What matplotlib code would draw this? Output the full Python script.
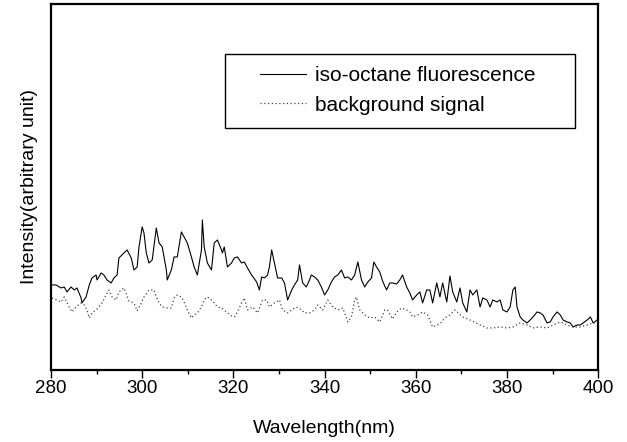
import matplotlib
matplotlib.use('Agg')
import matplotlib.pyplot as plt
from matplotlib.patches import Rectangle
from matplotlib.ticker import MultipleLocator

plt.rcParams['font.family'] = ['Liberation Sans', 'DejaVu Sans']

# iso-octane fluorescence (solid)
wl_fluor = [280.2, 281.1, 282.2, 282.9, 283.5, 284.4, 285.1, 285.7, 286.6, 286.8,
            287.7, 288.4, 289.0, 289.9, 290.1, 291.0, 291.6, 292.3, 293.2, 293.8,
            294.5, 294.9, 296.0, 296.7, 297.6, 298.2, 298.9, 299.3, 300.0, 300.4,
            300.9, 301.5, 302.2, 303.1, 303.7, 304.4, 305.3, 305.5, 306.4, 307.0,
            307.7, 308.6, 309.2, 309.9, 310.8, 311.4, 312.1, 313.0, 313.2, 313.6,
            314.3, 315.2, 315.8, 316.5, 317.4, 317.6, 318.0, 318.7, 319.6, 320.2,
            320.9, 321.8, 322.4, 323.1, 324.0, 325.1, 325.7, 326.2, 326.8, 327.5,
            327.9, 328.4, 329.0, 329.7, 330.6, 331.2, 331.9, 332.8, 333.4, 334.1,
            334.5, 335.2, 336.0, 336.7, 337.1, 337.8, 338.5, 339.3, 340.0, 340.7,
            341.5, 342.2, 342.9, 343.7, 344.4, 345.1, 345.9, 346.6, 347.3, 348.1,
            348.8, 349.5, 350.3, 350.8, 351.4, 352.1, 352.8, 353.6, 354.3, 354.9,
            355.8, 356.5, 357.1, 358.0, 358.7, 359.3, 360.2, 360.9, 361.5, 362.4,
            363.1, 363.7, 364.6, 365.3, 365.9, 366.8, 367.5, 368.1, 369.0, 369.7,
            370.3, 371.2, 371.9, 372.5, 373.4, 374.1, 374.7, 375.6, 376.3, 376.9,
            377.8, 378.5, 379.1, 380.0, 380.7, 381.3, 381.8, 382.2, 382.9, 383.5,
            384.4, 385.1, 385.7, 386.6, 387.3, 387.9, 388.8, 389.5, 390.1, 391.0,
            391.7, 392.3, 393.2, 393.9, 394.5, 395.4, 396.1, 396.7, 397.6, 398.3,
            398.9, 399.8]
int_fluor = [85, 85, 82, 83, 78, 83, 80, 82, 72, 67,
             73, 85, 92, 95, 90, 97, 95, 90, 87, 92,
             95, 112, 117, 120, 112, 100, 103, 123, 143, 137,
             117, 107, 110, 142, 127, 123, 100, 90, 100, 113,
             113, 138, 133, 127, 113, 103, 95, 120, 150, 123,
             107, 100, 127, 130, 120, 117, 123, 103, 107, 112,
             113, 107, 108, 102, 95, 88, 80, 93, 92, 95,
             103, 120, 107, 92, 92, 87, 70, 80, 85, 90,
             105, 87, 83, 90, 95, 93, 90, 83, 75, 80,
             88, 93, 95, 100, 92, 93, 90, 95, 108, 90,
             83, 88, 92, 108, 103, 98, 88, 80, 87, 87,
             86, 90, 95, 83, 77, 70, 75, 78, 67, 80,
             80, 67, 87, 73, 87, 68, 94, 78, 68, 82,
             67, 58, 80, 75, 80, 63, 72, 70, 63, 70,
             68, 70, 60, 58, 63, 80, 83, 63, 53, 50,
             47, 50, 53, 58, 57, 55, 47, 48, 53, 58,
             55, 50, 48, 47, 43, 45, 45, 47, 50, 53,
             47, 50]

# background signal (dotted)
wl_bg = [280.2, 281.3, 282.2, 282.9, 284.0, 284.6, 285.5, 286.6, 287.3, 287.9,
         288.4, 289.0, 289.9, 290.5, 291.2, 292.1, 292.7, 293.4, 294.3, 294.9,
         296.0, 297.1, 298.2, 298.9, 299.8, 300.4, 301.5, 302.6, 303.1, 303.7,
         304.4, 305.5, 306.4, 307.0, 307.7, 308.6, 309.2, 309.9, 310.8, 311.4,
         312.1, 313.0, 313.6, 314.3, 315.2, 315.8, 316.5, 317.4, 318.0, 318.7,
         319.6, 320.2, 320.9, 321.8, 322.4, 323.1, 324.2, 325.3, 326.4, 327.3,
         327.9, 329.0, 330.1, 330.8, 331.9, 332.8, 333.8, 335.0, 335.6, 336.7,
         337.8, 338.5, 339.6, 340.7, 341.8, 342.9, 344.0, 345.1, 345.9, 346.6,
         347.0, 347.7, 348.8, 349.9, 351.0, 352.1, 353.2, 353.8, 354.9, 355.8,
         356.9, 358.0, 358.7, 359.3, 360.4, 361.5, 362.6, 363.7, 365.3, 366.4,
         367.5, 368.6, 370.3, 371.9, 374.1, 375.6, 376.9, 378.5, 380.0, 381.3,
         382.9, 384.4, 385.7, 387.3, 388.8, 390.1, 391.7, 393.2, 394.5, 396.1,
         397.6, 398.9, 400.0]
int_bg = [72, 70, 68, 73, 63, 58, 63, 67, 65, 60,
          52, 57, 60, 63, 67, 75, 80, 73, 70, 78,
          82, 69, 67, 59, 67, 73, 80, 80, 73, 67,
          63, 62, 62, 72, 75, 73, 68, 60, 52, 55,
          57, 63, 70, 73, 70, 67, 63, 62, 60, 57,
          54, 53, 58, 67, 72, 60, 63, 57, 70, 70,
          63, 67, 70, 60, 57, 60, 63, 60, 57, 57,
          60, 65, 60, 70, 63, 60, 62, 48, 53, 70,
          73, 60, 55, 52, 53, 48, 60, 60, 51, 58,
          62, 60, 58, 53, 55, 58, 55, 43, 46, 52,
          55, 60, 53, 50, 45, 42, 42, 43, 42, 43,
          47, 45, 42, 43, 42, 45, 48, 45, 43, 43,
          45, 47, 47]

fig = plt.figure(figsize=(6.27, 4.42), dpi=100)
ax = fig.add_axes([0.0813, 0.163, 0.8727, 0.828])

ax.plot(wl_fluor, int_fluor, color='black', lw=0.8, label='iso-octane fluorescence')
ax.plot(wl_bg, int_bg, color='#444444', lw=0.9, linestyle=(0, (1, 2)),
        label='background signal')

ax.set_xlim(280, 400)
ax.set_ylim(0, 366)
ax.xaxis.set_major_locator(MultipleLocator(20))
ax.xaxis.set_minor_locator(MultipleLocator(10))
ax.tick_params(axis='x', which='major', direction='out', length=6, width=1,
               labelsize=13.5, pad=1, top=False)
ax.tick_params(axis='x', which='minor', direction='out', length=3, width=1, top=False)
ax.set_yticks([])
for s in ax.spines.values():
    s.set_linewidth(1.6)

ax.set_xlabel('Wavelength(nm)', fontsize=14, labelpad=17)
ax.set_ylabel('Intensity(arbitrary unit)', fontsize=14, labelpad=9)

# legend box drawn separately for the wide side padding
ax.add_patch(Rectangle((0.318, 0.661), 0.64, 0.202, transform=ax.transAxes,
                       fill=False, edgecolor='black', lw=1.0, zorder=5))
ax.legend(loc='upper left', bbox_to_anchor=(0.382, 0.83), frameon=False,
          fontsize=15, borderpad=0, handlelength=2.2, handletextpad=0.45,
          labelspacing=0.5, borderaxespad=0)

fig.savefig('out.png', dpi=100)
